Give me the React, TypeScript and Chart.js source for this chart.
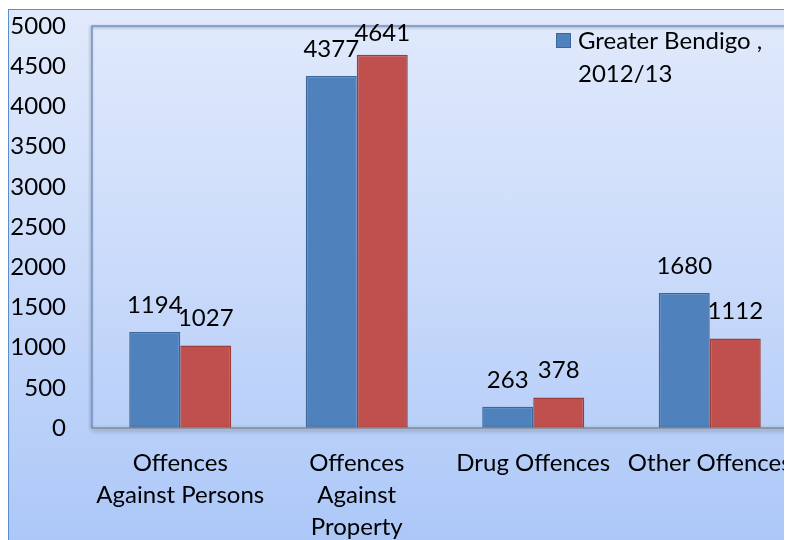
import React, { useEffect, useRef } from 'react';
import { Chart, registerables } from 'chart.js';

Chart.register(...registerables);

const categories: (string | string[])[] = [
  ['Offences', 'Against Persons'],
  ['Offences', 'Against', 'Property'],
  'Drug Offences',
  'Other Offences',
];
const series1Label = 'Greater Bendigo , 2012/13';
const series1 = [1194, 4377, 263, 1680];
const series2Label = 'Greater Bendigo , 2011/12';
const series2 = [1027, 4641, 378, 1112];
const yTickMin = 0;
const yTickMax = 5000;
const yTickStep = 500;

const FONT = 'Lato, "Open Sans", sans-serif';
const FONT_SIZE = 24;

const framePlugin = {
  id: 'frame',
  beforeDatasetsDraw(chart: any) {
    const { ctx, chartArea } = chart;
    const { left, top, right, bottom } = chartArea;
    ctx.save();
    ctx.shadowColor = 'rgba(0,0,0,0.35)';
    ctx.shadowBlur = 3;
    ctx.shadowOffsetX = -1;
    ctx.shadowOffsetY = 1;
    ctx.strokeStyle = '#7393c4';
    ctx.lineWidth = 1.5;
    ctx.beginPath();
    ctx.moveTo(left, bottom);
    ctx.lineTo(left, top);
    ctx.lineTo(right + 20, top);
    ctx.stroke();
    ctx.restore();
  },
  afterDatasetsDraw(chart: any) {
    const { ctx, chartArea } = chart;
    const { left, right, bottom } = chartArea;
    ctx.save();
    ctx.shadowColor = 'rgba(0,0,0,0.45)';
    ctx.shadowBlur = 4;
    ctx.shadowOffsetY = 2;
    ctx.strokeStyle = '#868a92';
    ctx.lineWidth = 1.5;
    ctx.beginPath();
    ctx.moveTo(left, bottom);
    ctx.lineTo(right + 20, bottom);
    ctx.stroke();
    ctx.restore();
  },
};

const valueLabelPlugin = {
  id: 'valueLabels',
  afterDraw(chart: any) {
    const { ctx, chartArea } = chart;
    ctx.save();
    ctx.font = `${FONT_SIZE}px ${FONT}`;
    ctx.fillStyle = '#000';
    ctx.textAlign = 'center';
    ctx.textBaseline = 'middle';
    chart.data.datasets.forEach((ds: any, di: number) => {
      const meta = chart.getDatasetMeta(di);
      meta.data.forEach((bar: any, i: number) => {
        const y = Math.max(bar.y - 27, chartArea.top + 7);
        ctx.fillText(String(ds.data[i]), bar.x, y);
      });
    });
    ctx.restore();
  },
};

const legendPlugin = {
  id: 'cornerLegend',
  afterDraw(chart: any) {
    const { ctx } = chart;
    const ds = chart.data.datasets[0];
    const label: string = ds.label;
    const ci = label.indexOf(',');
    const lines = [label.slice(0, ci + 1), label.slice(ci + 1).trim()];
    ctx.save();
    ctx.fillStyle = ds.backgroundColor;
    ctx.strokeStyle = ds.borderColor;
    ctx.lineWidth = 1;
    ctx.fillRect(548, 25, 15, 15);
    ctx.strokeRect(548.5, 25.5, 14, 14);
    ctx.font = `${FONT_SIZE}px ${FONT}`;
    ctx.fillStyle = '#000';
    ctx.textAlign = 'left';
    ctx.textBaseline = 'middle';
    lines.forEach((t, i) => ctx.fillText(t, 570, 33 + i * 33));
    ctx.restore();
  },
};

export default function App() {
  const ref = useRef<HTMLCanvasElement | null>(null);

  useEffect(() => {
    if (!ref.current) return;
    const chart = new Chart(ref.current, {
      type: 'bar',
      data: {
        labels: categories as any,
        datasets: [
          {
            label: series1Label,
            data: series1,
            backgroundColor: '#4F81BD',
            borderColor: '#3B669A',
            borderWidth: 1.5,
            categoryPercentage: 0.578,
            barPercentage: 1,
          },
          {
            label: series2Label,
            data: series2,
            backgroundColor: '#C0504D',
            borderColor: '#9B3D3B',
            borderWidth: 1.5,
            categoryPercentage: 0.578,
            barPercentage: 1,
          },
        ],
      },
      options: {
        responsive: false,
        animation: false,
        devicePixelRatio: 1,
        layout: { padding: { top: 18, left: 0, right: 30, bottom: 20 } },
        plugins: {
          legend: { display: false },
          tooltip: { enabled: false },
        },
        scales: {
          x: {
            grid: { display: false, drawTicks: false },
            border: { display: false },
            ticks: {
              color: '#000',
              font: { family: FONT, size: FONT_SIZE, lineHeight: '32px' } as any,
              padding: 19,
              maxRotation: 0,
              autoSkip: false,
            },
            afterFit: (s: any) => {
              s.height = 130;
              s.paddingLeft = 0;
              s.paddingRight = 0;
            },
          },
          y: {
            min: yTickMin,
            max: yTickMax,
            grid: { display: false, drawTicks: false },
            border: { display: false },
            ticks: {
              stepSize: yTickStep,
              color: '#000',
              font: { family: FONT, size: FONT_SIZE },
              padding: 26,
              callback: (v: any) => String(v),
            },
            afterFit: (s: any) => {
              s.width = 84;
              s.paddingTop = 0;
              s.paddingBottom = 0;
            },
          },
        },
      },
      plugins: [framePlugin, valueLabelPlugin, legendPlugin],
    });
    return () => chart.destroy();
  }, []);

  return (
    <div style={{ position: 'relative', width: 784, height: 532, overflow: 'hidden' }}>
      <div
        style={{
          position: 'absolute',
          left: 0,
          top: 1,
          width: 840,
          height: 600,
          boxSizing: 'border-box',
          border: '1.5px solid #5b8bd0',
          background: 'linear-gradient(to bottom, #e1eafc 0%, #c9dafa 45%, #a5c3f7 100%)',
        }}
      />
      <canvas
        ref={ref}
        width={820}
        height={570}
        style={{ position: 'absolute', left: 0, top: 0, width: 820, height: 570 }}
      />
    </div>
  );
}
